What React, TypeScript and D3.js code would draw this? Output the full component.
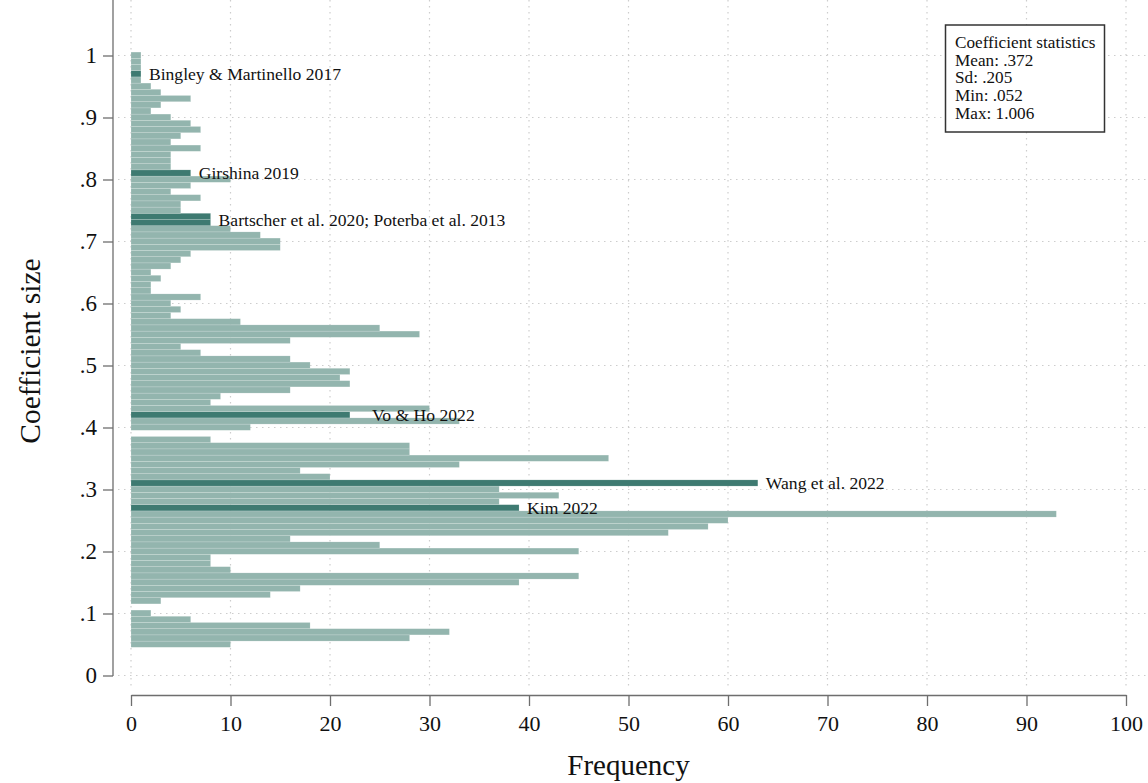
import React, { useEffect, useRef } from "react";
import * as d3 from "d3";

// histogram of coefficient sizes, bins of width .01 starting at about .0455
const BIN_START = 0.0455;
const BIN_WIDTH = 0.01;

// frequency per bin, bottom (smallest coefficient) to top
const frequencies = [
  10, 28, 32, 18, 6, 2, 0, 3, 14, 17,
  39, 45, 10, 8, 8, 45, 25, 16, 54, 58,
  60, 93, 39, 37, 43, 37, 63, 20, 17, 33,
  48, 28, 28, 8, 0, 12, 33, 22, 30, 8,
  9, 16, 22, 21, 22, 18, 16, 7, 5, 16,
  29, 25, 11, 4, 5, 4, 7, 2, 2, 3,
  2, 4, 5, 6, 15, 15, 13, 10, 8, 8,
  5, 5, 7, 4, 6, 10, 6, 4, 4, 4,
  7, 4, 5, 7, 6, 4, 2, 3, 6, 3,
  2, 1, 1, 1, 1, 1,
];

// bins that hold the highlighted studies
const highlightBins = [22, 26, 37, 68, 69, 76, 92];

const annotations = [
  { bin: 92, text: "Bingley & Martinello 2017" },
  { bin: 76, text: "Girshina 2019" },
  { bin: 68.5, text: "Bartscher et al. 2020; Poterba et al. 2013" },
  { bin: 37, text: "Vo & Ho 2022" },
  { bin: 26, text: "Wang et al. 2022" },
  { bin: 22, text: "Kim 2022" },
];
const labelShift: Record<string, number> = { "Vo & Ho 2022": 14 };

const yTicks = [0, 0.1, 0.2, 0.3, 0.4, 0.5, 0.6, 0.7, 0.8, 0.9, 1];
const yTickLabels = ["0", ".1", ".2", ".3", ".4", ".5", ".6", ".7", ".8", ".9", "1"];
const xTicks = [0, 10, 20, 30, 40, 50, 60, 70, 80, 90, 100];

const statsTitle = "Coefficient statistics";
const statsLines = ["Mean: .372", "Sd: .205", "Min: .052", "Max: 1.006"];

const W = 1148;
const H = 783;
const FONT = "'Liberation Serif', 'Times New Roman', serif";
const LIGHT = "#93b5ae";
const DARK = "#3e7a71";
const GRID = "#cdcdcd";

const App = () => {
  const ref = useRef<SVGSVGElement>(null);

  useEffect(() => {
    const svg = d3.select(ref.current);
    svg.selectAll("*").remove();

    const x = d3.scaleLinear().domain([0, 100]).range([131, 1126]);
    const y = d3.scaleLinear().domain([0, 1]).range([675.5, 55.5]);
    const axisX = 113;
    const axisY = 695;

    // grid
    const grid = svg.append("g");
    grid
      .selectAll("line.h")
      .data(yTicks)
      .join("line")
      .attr("x1", 118)
      .attr("x2", W)
      .attr("y1", (d) => y(d))
      .attr("y2", (d) => y(d))
      .attr("stroke", GRID)
      .attr("stroke-width", 1.2)
      .attr("stroke-dasharray", "1.5,4.5");
    grid
      .selectAll("line.v")
      .data(xTicks)
      .join("line")
      .attr("x1", (d) => x(d))
      .attr("x2", (d) => x(d))
      .attr("y1", 0)
      .attr("y2", 690)
      .attr("stroke", GRID)
      .attr("stroke-width", 1.2)
      .attr("stroke-dasharray", "1.5,4.5");

    // bars
    const bins = frequencies.map((f, i) => ({
      i,
      f,
      lo: BIN_START + i * BIN_WIDTH,
      hi: BIN_START + (i + 1) * BIN_WIDTH,
    }));
    svg
      .append("g")
      .selectAll("rect")
      .data(bins.filter((b) => b.f > 0))
      .join("rect")
      .attr("x", x(0))
      .attr("y", (b) => y(b.hi))
      .attr("width", (b) => x(b.f) - x(0))
      .attr("height", (b) => y(b.lo) - y(b.hi))
      .attr("fill", (b) => (highlightBins.includes(b.i) ? DARK : LIGHT))
      .attr("stroke", "#ffffff")
      .attr("stroke-opacity", 0.3)
      .attr("stroke-width", 0.5);

    // annotations
    svg
      .append("g")
      .selectAll("text")
      .data(annotations)
      .join("text")
      .attr("x", (a) => {
        const b = Math.floor(a.bin);
        return x(frequencies[b]) + 8 + (labelShift[a.text] || 0);
      })
      .attr("y", (a) => y(BIN_START + (a.bin + 0.5) * BIN_WIDTH))
      .attr("dy", "0.35em")
      .attr("font-family", FONT)
      .attr("font-size", 17.6)
      .attr("fill", "#111")
      .text((a) => a.text);

    // y axis
    const yAxis = d3
      .axisLeft(y)
      .tickValues(yTicks)
      .tickFormat((d, i) => yTickLabels[i])
      .tickSize(10)
      .tickSizeOuter(0)
      .tickPadding(6);
    const gy = svg.append("g").attr("transform", `translate(${axisX},0)`).call(yAxis);
    gy.select(".domain").remove();
    gy.selectAll("line").attr("stroke", "#6e6e6e").attr("stroke-width", 1.3);
    gy.selectAll("text").attr("font-family", FONT).attr("font-size", 23).attr("fill", "#111");
    svg
      .append("line")
      .attr("x1", axisX)
      .attr("x2", axisX)
      .attr("y1", 0)
      .attr("y2", y(0) + 0.6)
      .attr("stroke", "#6e6e6e")
      .attr("stroke-width", 1.3);

    // x axis
    const xAxis = d3
      .axisBottom(x)
      .tickValues(xTicks)
      .tickSize(11)
      .tickSizeOuter(0)
      .tickPadding(9);
    const gx = svg.append("g").attr("transform", `translate(0,${axisY})`).call(xAxis);
    gx.select(".domain").attr("stroke", "#6e6e6e").attr("stroke-width", 1.3);
    gx.selectAll("line").attr("stroke", "#6e6e6e").attr("stroke-width", 1.3);
    gx.selectAll("text").attr("font-family", FONT).attr("font-size", 22).attr("fill", "#111");

    // titles
    svg
      .append("text")
      .attr("x", (x(0) + x(100)) / 2)
      .attr("y", 775)
      .attr("text-anchor", "middle")
      .attr("font-family", FONT)
      .attr("font-size", 29)
      .attr("fill", "#111")
      .text("Frequency");
    svg
      .append("text")
      .attr("transform", "translate(40,351) rotate(-90)")
      .attr("text-anchor", "middle")
      .attr("font-family", FONT)
      .attr("font-size", 29.5)
      .attr("fill", "#111")
      .text("Coefficient size");

    // statistics box
    const box = svg.append("g");
    box
      .append("rect")
      .attr("x", 945.5)
      .attr("y", 25)
      .attr("width", 159)
      .attr("height", 107)
      .attr("fill", "#fff")
      .attr("stroke", "#333")
      .attr("stroke-width", 1.5);
    box
      .selectAll("text")
      .data([statsTitle, ...statsLines])
      .join("text")
      .attr("x", 955)
      .attr("y", (d, i) => 48 + i * 17.7)
      .attr("font-family", FONT)
      .attr("font-size", 17.2)
      .attr("fill", "#111")
      .text((d) => d);
  }, []);

  return (
    <svg
      ref={ref}
      width={W}
      height={H}
      style={{ position: "absolute", left: 0, top: 0, background: "#fff" }}
    />
  );
};

export default App;
